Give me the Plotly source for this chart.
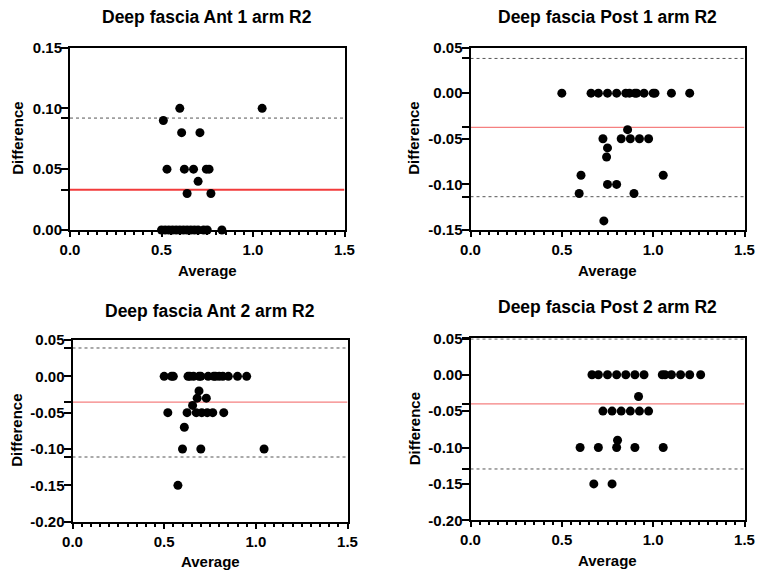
import plotly.graph_objects as go

W, H = 763, 578

titles = ["Deep fascia Ant 1 arm R2", "Deep fascia Post 1 arm R2",
          "Deep fascia Ant 2 arm R2", "Deep fascia Post 2 arm R2"]

# Panel 1: Deep fascia Ant 1 arm R2
ant1_avg = [0.51, 0.60, 1.05, 0.61, 0.71, 0.53, 0.625, 0.675, 0.745, 0.76, 0.70, 0.64, 0.77,
            0.50, 0.52, 0.54, 0.56, 0.58, 0.60, 0.62, 0.64, 0.66, 0.68, 0.70, 0.73, 0.75, 0.83]
ant1_diff = [0.09, 0.10, 0.10, 0.08, 0.08, 0.05, 0.05, 0.05, 0.05, 0.05, 0.04, 0.03, 0.03,
             0, 0, 0, 0, 0, 0, 0, 0, 0, 0, 0, 0, 0, 0]

# Panel 2: Deep fascia Post 1 arm R2
post1_avg = [0.50, 0.66, 0.70, 0.75, 0.80, 0.85, 0.87, 0.90, 0.91, 0.95, 1.00, 1.01, 1.10, 1.20,
             0.86, 0.725, 0.825, 0.875, 0.925, 0.975, 0.75, 0.745, 0.605, 1.055,
             0.75, 0.80, 0.595, 0.895, 0.73]
post1_diff = [0, 0, 0, 0, 0, 0, 0, 0, 0, 0, 0, 0, 0, 0,
              -0.04, -0.05, -0.05, -0.05, -0.05, -0.05, -0.06, -0.07, -0.09, -0.09,
              -0.10, -0.10, -0.11, -0.11, -0.14]

# Panel 3: Deep fascia Ant 2 arm R2
ant2_avg = [0.50, 0.54, 0.55, 0.63, 0.64, 0.66, 0.69, 0.70, 0.74, 0.77, 0.78, 0.80, 0.82, 0.85, 0.90, 0.95,
            0.69, 0.68, 0.73, 0.655, 0.52, 0.625, 0.675, 0.705, 0.735, 0.765, 0.825,
            0.61, 0.60, 0.70, 1.045, 0.575]
ant2_diff = [0, 0, 0, 0, 0, 0, 0, 0, 0, 0, 0, 0, 0, 0, 0, 0,
             -0.02, -0.03, -0.03, -0.04, -0.05, -0.05, -0.05, -0.05, -0.05, -0.05, -0.05,
             -0.07, -0.10, -0.10, -0.10, -0.15]

# Panel 4: Deep fascia Post 2 arm R2
post2_avg = [0.665, 0.70, 0.75, 0.80, 0.85, 0.90, 0.95, 1.05, 1.065, 1.10, 1.15, 1.20, 1.26,
             0.92, 0.725, 0.775, 0.825, 0.875, 0.925, 0.975, 0.805,
             0.60, 0.70, 0.80, 0.90, 1.055, 0.675, 0.775]
post2_diff = [0, 0, 0, 0, 0, 0, 0, 0, 0, 0, 0, 0, 0,
              -0.03, -0.05, -0.05, -0.05, -0.05, -0.05, -0.05, -0.09,
              -0.10, -0.10, -0.10, -0.10, -0.10, -0.15, -0.15]

# Bias (mean difference) and limits of agreement
bias = [0.033, -0.0375, -0.0355, -0.040]
upper_loa = [0.092, 0.038, 0.039, 0.049]
lower_loa = [-0.026, -0.1135, -0.111, -0.1295]

y_ranges = [[0, 0.15], [-0.15, 0.05], [-0.20, 0.05], [-0.20, 0.05]]
y_ticks = [[0.00, 0.05, 0.10, 0.15],
           [-0.15, -0.10, -0.05, 0.00, 0.05],
           [-0.20, -0.15, -0.10, -0.05, 0.00, 0.05],
           [-0.20, -0.15, -0.10, -0.05, 0.00, 0.05]]
x_ticks = [0.0, 0.5, 1.0, 1.5]
x_range = [0, 1.5]

avgs = [ant1_avg, post1_avg, ant2_avg, post2_avg]
diffs = [ant1_diff, post1_diff, ant2_diff, post2_diff]

# plot-area boxes in pixels (left, right, top, bottom)
boxes = [(70, 344.5, 47.5, 230), (470.5, 744.5, 47.5, 230),
         (72.5, 347.5, 340, 521.7), (470.5, 744.5, 338.3, 520.3)]
red_colors = ["#f23b3b", "#f58080", "#f58080", "#f58080"]
red_widths = [2, 1.3, 1.3, 1.3]

FONT = "Liberation Sans, Arial, sans-serif"

fig = go.Figure()
annotations = []
for i in range(4):
    l, r, t, b = boxes[i]
    xa = "x" if i == 0 else f"x{i+1}"
    ya = "y" if i == 0 else f"y{i+1}"
    xk = "xaxis" if i == 0 else f"xaxis{i+1}"
    yk = "yaxis" if i == 0 else f"yaxis{i+1}"

    # bias line
    fig.add_trace(go.Scatter(x=x_range, y=[bias[i]] * 2, mode="lines",
                             line=dict(color=red_colors[i], width=red_widths[i]),
                             xaxis=xa, yaxis=ya, showlegend=False, hoverinfo="skip"))
    # limits of agreement
    for v in (upper_loa[i], lower_loa[i]):
        fig.add_trace(go.Scatter(x=x_range, y=[v, v], mode="lines",
                                 line=dict(color="#555555", width=1, dash="dot"),
                                 xaxis=xa, yaxis=ya, showlegend=False, hoverinfo="skip"))
    # points
    fig.add_trace(go.Scatter(x=avgs[i], y=diffs[i], mode="markers",
                             marker=dict(color="black", size=9),
                             cliponaxis=False, xaxis=xa, yaxis=ya, showlegend=False))

    tv = y_ticks[i] + [bias[i], upper_loa[i], lower_loa[i]]
    tt = [f"{v:.2f}" for v in y_ticks[i]] + ["", "", ""]

    fig.layout[xk] = dict(domain=[l / W, r / W], range=x_range, anchor=ya, automargin=False,
                          tickvals=x_ticks, ticktext=[f"{v:.1f}" for v in x_ticks],
                          ticks="outside", ticklen=5, tickwidth=2, tickcolor="black",
                          showline=True, linecolor="black", linewidth=2, mirror=True,
                          showgrid=False, zeroline=False, ticklabeloverflow="allow",
                          tickfont=dict(family=FONT, size=15, color="black", weight="bold"),
                          minor=dict(dtick=0.05, tick0=0, ticks="outside", ticklen=3,
                                     tickwidth=1.5, tickcolor="black", showgrid=False))
    fig.layout[yk] = dict(domain=[1 - b / H, 1 - t / H], range=y_ranges[i], anchor=xa, automargin=False,
                          tickvals=tv, ticktext=tt,
                          ticks="outside", ticklen=7, tickwidth=2, tickcolor="black",
                          showline=True, linecolor="black", linewidth=2, mirror=True,
                          showgrid=False, zeroline=False, ticklabelstandoff=-4,
                          ticklabeloverflow="allow",
                          tickfont=dict(family=FONT, size=15, color="black", weight="bold"))

    cx = (l + r) / 2
    cy = (t + b) / 2
    title_y = [17, 17, 311, 307][i]
    annotations.append(dict(text=titles[i], x=cx / W, y=1 - title_y / H, xref="paper", yref="paper",
                            showarrow=False, xanchor="center", yanchor="middle",
                            font=dict(family=FONT, size=17.5, color="black", weight="bold")))
    annotations.append(dict(text="Average", x=cx / W, y=1 - (b + 40) / H, xref="paper", yref="paper",
                            showarrow=False, xanchor="center", yanchor="middle",
                            font=dict(family=FONT, size=15, color="black", weight="bold")))
    dx = [18, 414, 17, 414][i]
    annotations.append(dict(text="Difference", x=dx / W, y=1 - cy / H, xref="paper", yref="paper",
                            showarrow=False, xanchor="center", yanchor="middle", textangle=-90,
                            font=dict(family=FONT, size=15, color="black", weight="bold")))

fig.update_layout(width=W, height=H, margin=dict(l=0, r=0, t=0, b=0, autoexpand=False),
                  paper_bgcolor="white", plot_bgcolor="white",
                  annotations=annotations, showlegend=False)

fig.write_html("out.html", config={"displayModeBar": False},
               post_script="document.body.style.margin='0';document.body.style.overflow='hidden';")
